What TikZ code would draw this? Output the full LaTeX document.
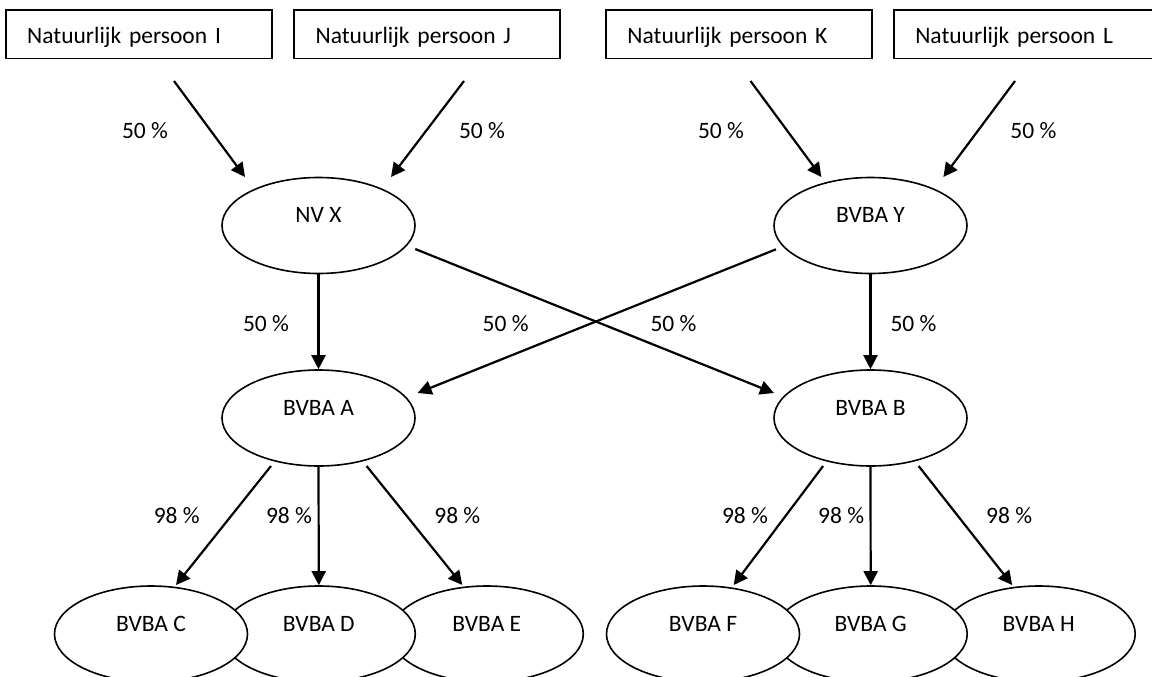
\documentclass[tikz,border=0pt]{standalone}
\usepackage{fontspec}
\setmainfont{Carlito}
\usetikzlibrary{arrows.meta,shapes.geometric}
\begin{document}
\begin{tikzpicture}[x=1pt,y=-1pt,
  every node/.style={font=\fontsize{23.5}{28}\selectfont},
  pbox/.style={draw, line width=1.6pt, rectangle, minimum width=266pt, minimum height=48.3pt,
    text width=223pt, inner xsep=21.5pt, inner ysep=0pt, align=left, text height=18pt, text depth=0pt},
  ell/.style={draw, line width=1.6pt, ellipse, fill=white, minimum width=193pt, minimum height=96pt,
    inner sep=0pt, text height=6pt, text depth=12pt},
  arr/.style={line width=2.2pt, -{Triangle[length=14pt,width=14pt]}},
  pct/.style={anchor=base}]
\useasboundingbox (0,0) rectangle (1152,677);
\clip (0,0) rectangle (1152,677);
\fill[white] (0,0) rectangle (1152,677);

% person boxes
\node[pbox] (I) at (138.7,34.2) {Natuurlijk persoon I};
\node[pbox] (J) at (427.1,34.2) {Natuurlijk persoon J};
\node[pbox] (K) at (738.9,34.2) {Natuurlijk persoon K};
\node[pbox] (L) at (1026.8,34.2) {Natuurlijk persoon L};

% ellipses
\node[ell] (X) at (318.5,225.5) {NV X};
\node[ell] (Y) at (870.5,225.5) {BVBA Y};
\node[ell] (A) at (318.5,418) {BVBA A};
\node[ell] (B) at (870.5,418) {BVBA B};
\node[ell] (E) at (486.8,634) {BVBA E};
\node[ell] (D) at (318.8,634) {BVBA D};
\node[ell] (C) at (151,634) {BVBA C};
\node[ell] (H) at (1038.7,634) {BVBA H};
\node[ell] (G) at (870.7,634) {BVBA G};
\node[ell] (F) at (703,634) {BVBA F};

% connector end points
\coordinate (iX1) at (174,81);    \coordinate (iX2) at (245,177);
\coordinate (jX1) at (464,81);    \coordinate (jX2) at (391,177);
\coordinate (kY1) at (750.5,81);  \coordinate (kY2) at (821.4,177);
\coordinate (lY1) at (1015,81);   \coordinate (lY2) at (943.4,177);
\coordinate (xB1) at (415.2,249); \coordinate (xB2) at (774,393);
\coordinate (yA1) at (776,249.3); \coordinate (yA2) at (417.6,393);
\coordinate (aC1) at (271,466);   \coordinate (aC2) at (176,585);
\coordinate (aE1) at (366.6,466); \coordinate (aE2) at (462.3,585);
\coordinate (bF1) at (823.1,466); \coordinate (bF2) at (733.7,585);
\coordinate (bH1) at (918.6,466); \coordinate (bH2) at (1012.2,585);

% arrows
\draw[arr] (iX1) -- (iX2);
\draw[arr] (jX1) -- (jX2);
\draw[arr] (kY1) -- (kY2);
\draw[arr] (lY1) -- (lY2);
\draw[arr] (X.south) -- (A.north);
\draw[arr] (Y.south) -- (B.north);
\draw[arr] (xB1) -- (xB2);
\draw[arr] (yA1) -- (yA2);
\draw[arr] (aC1) -- (aC2);
\draw[arr] (A.south) -- (D.north);
\draw[arr] (aE1) -- (aE2);
\draw[arr] (bF1) -- (bF2);
\draw[arr] (B.south) -- (G.north);
\draw[arr] (bH1) -- (bH2);

% percentages
\node[pct] (p1) at (145,138) {50 \%};
\node[pct] (p2) at (482,138) {50 \%};
\node[pct] (p3) at (721,138) {50 \%};
\node[pct] (p4) at (1033.4,138) {50 \%};
\node[pct] (p5) at (266,331) {50 \%};
\node[pct] (p6) at (505.6,331) {50 \%};
\node[pct] (p7) at (673.5,331) {50 \%};
\node[pct] (p8) at (913.5,331) {50 \%};
\node[pct] (q1) at (176.8,523) {98 \%};
\node[pct] (q2) at (289,523) {98 \%};
\node[pct] (q3) at (457.3,523) {98 \%};
\node[pct] (q4) at (745,523) {98 \%};
\node[pct] (q5) at (841.2,523) {98 \%};
\node[pct] (q6) at (1009.2,523) {98 \%};
\end{tikzpicture}
\end{document}
